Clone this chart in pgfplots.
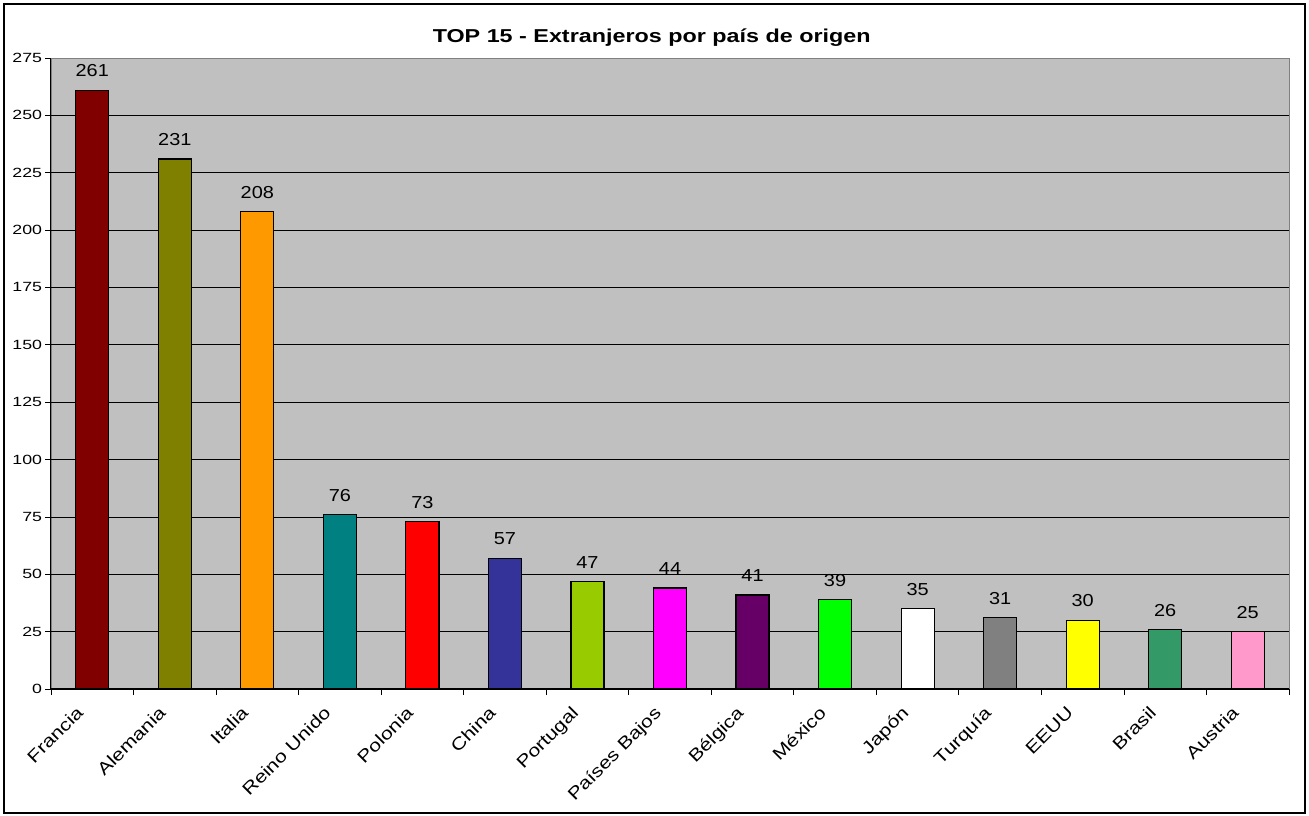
\documentclass[border=0pt]{standalone}
\usepackage{graphicx}
\usepackage{pgfplots}
\pgfplotsset{compat=1.18}
\usepackage{fontspec}
\setmainfont{Liberation Sans}

\definecolor{cFrancia}{HTML}{800000}
\definecolor{cAlemania}{HTML}{808000}
\definecolor{cItalia}{HTML}{FF9900}
\definecolor{cReino}{HTML}{008080}
\definecolor{cPolonia}{HTML}{FF0000}
\definecolor{cChina}{HTML}{333399}
\definecolor{cPortugal}{HTML}{99CC00}
\definecolor{cPaises}{HTML}{FF00FF}
\definecolor{cBelgica}{HTML}{660066}
\definecolor{cMexico}{HTML}{00FF00}
\definecolor{cJapon}{HTML}{FFFFFF}
\definecolor{cTurquia}{HTML}{808080}
\definecolor{cEEUU}{HTML}{FFFF00}
\definecolor{cBrasil}{HTML}{339966}
\definecolor{cAustria}{HTML}{FF99CC}
\definecolor{plotgray}{HTML}{C0C0C0}

% the reference sets its text a little wide
\newcommand{\wx}[1]{\scalebox{1.22}[1]{#1}}

\begin{document}
\begin{tikzpicture}
% page frame, 1px = 0.75pt
\useasboundingbox (-38.25pt,-95.25pt) rectangle (943.5pt,516.75pt);
\draw[black, line width=0.9pt] (-35.25pt,-93pt) rectangle (940.5pt,513.75pt);
\node[font=\bfseries\fontsize{14}{16}\selectfont] at (450.5pt,488.6pt)
    {\scalebox{1.25}[1]{TOP 15 - Extranjeros por país de origen}};

\begin{axis}[
    at={(0,0)}, anchor=south west,
    scale only axis,
    width=928.5pt, height=473.25pt,
    axis background/.style={fill=plotgray, draw=gray},
    axis x line*=bottom, axis y line*=left,
    axis line style={black, line width=0.75pt},
    ybar, bar width=0.4, bar shift=0pt,
    xmin=-0.5, xmax=14.5,
    ymin=0, ymax=275,
    ytick={0,25,...,250},
    extra y ticks={275},
    extra y tick style={grid=none},
    ymajorgrids,
    grid style={black, line width=0.6pt},
    tick align=outside,
    major tick length=4.5pt,
    tick style={black, line width=0.6pt},
    xtick={-0.5,0.5,...,14.5},
    xticklabel={\relax},
    extra x ticks={0,1,...,14},
    extra x tick labels={\wx{Francia},\wx{Alemania},\wx{Italia},\wx{Reino Unido},\wx{Polonia},\wx{China},\wx{Portugal},\wx{Países Bajos},\wx{Bélgica},\wx{México},\wx{Japón},\wx{Turquía},\wx{EEUU},\wx{Brasil},\wx{Austria}},
    extra x tick style={major tick length=0pt, grid=none},
    xticklabel style={xshift=-12.75pt, yshift=-10.5pt, rotate=45, anchor=north east, font=\fontsize{13}{15}\selectfont, inner sep=1pt},
    yticklabel={\scalebox{1.33}[1]{\pgfmathprintnumber{\tick}}},
    yticklabel style={font=\fontsize{10}{12}\selectfont, inner sep=2pt},
    /pgf/number format/assume math mode=true,
    nodes near coords={\scalebox{1.15}[1]{\pgfmathprintnumber{\pgfplotspointmeta}}},
    every node near coord/.append style={font=\fontsize{13}{15}\selectfont, yshift=6pt, black},
    every axis plot/.append style={draw=black, line width=0.9pt},
]
\addplot[fill=cFrancia] coordinates {(0,261)};
\addplot[fill=cAlemania] coordinates {(1,231)};
\addplot[fill=cItalia] coordinates {(2,208)};
\addplot[fill=cReino] coordinates {(3,76)};
\addplot[fill=cPolonia] coordinates {(4,73)};
\addplot[fill=cChina] coordinates {(5,57)};
\addplot[fill=cPortugal] coordinates {(6,47)};
\addplot[fill=cPaises] coordinates {(7,44)};
\addplot[fill=cBelgica] coordinates {(8,41)};
\addplot[fill=cMexico] coordinates {(9,39)};
\addplot[fill=cJapon] coordinates {(10,35)};
\addplot[fill=cTurquia] coordinates {(11,31)};
\addplot[fill=cEEUU] coordinates {(12,30)};
\addplot[fill=cBrasil] coordinates {(13,26)};
\addplot[fill=cAustria] coordinates {(14,25)};
\end{axis}
\end{tikzpicture}
\end{document}
